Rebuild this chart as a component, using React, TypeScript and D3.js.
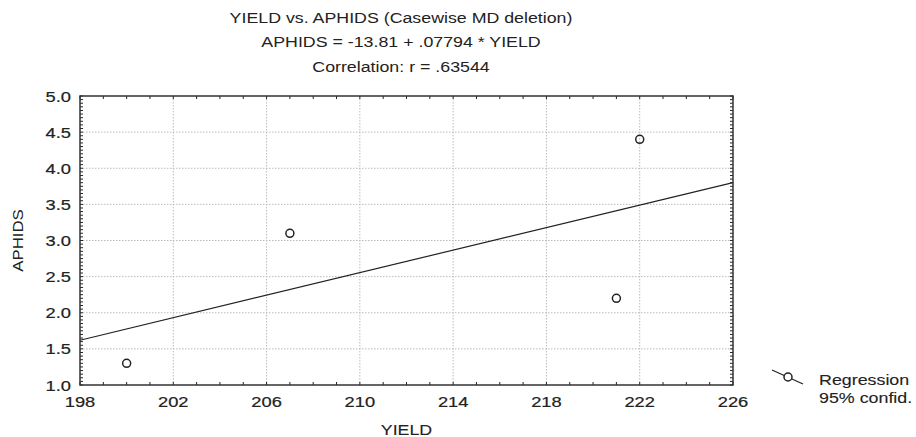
import React from 'react';
import * as d3 from 'd3';

// data
const yieldValues = [200, 207, 221, 222];
const aphidValues = [1.3, 3.1, 2.2, 4.4];
const xTicks = [198, 202, 206, 210, 214, 218, 222, 226];
const yTicks = [1.0, 1.5, 2.0, 2.5, 3.0, 3.5, 4.0, 4.5, 5.0];
const titleLines = [
  'YIELD vs. APHIDS (Casewise MD deletion)',
  'APHIDS = -13.81 + .07794 * YIELD',
  'Correlation: r = .63544',
];
const legendLabels = ['Regression', '95% confid.'];

const W = 916;
const H = 437;
const margin = { left: 80, top: 96, right: 183, bottom: 52 };
const font = 'Arial, "Liberation Sans", Helvetica, sans-serif';
const ink = '#222';

// the reference text is stretched sideways, so scale x only
function Label({ x, y, sx = 1.25, size = 14, anchor = 'start', weight = 0.2, children }: any) {
  return (
    <text transform={`translate(${x},${y}) scale(${sx},1)`} textAnchor={anchor} fontSize={size}
      fill={ink} stroke={ink} strokeWidth={weight}>{children}</text>
  );
}

export default function App() {
  const x = d3.scaleLinear().domain([198, 226]).range([margin.left, W - margin.right]);
  const y = d3.scaleLinear().domain([1, 5]).range([H - margin.bottom, margin.top]);

  // least squares fit
  const mx = d3.mean(yieldValues)!;
  const my = d3.mean(aphidValues)!;
  const sxy = d3.sum(yieldValues, (v, i) => (v - mx) * (aphidValues[i] - my));
  const sxx = d3.sum(yieldValues, v => (v - mx) ** 2);
  const slope = sxy / sxx;
  const intercept = my - slope * mx;
  const [x0, x1] = x.domain();
  const line = d3.line<number>().x(d => x(d)).y(d => y(intercept + slope * d));

  const xMinor = d3.range(198, 227, 1);
  const yMinor = d3.range(0, 81).map(i => 1 + i * 0.05);
  const [L, R] = x.range();
  const [B, T] = y.range();

  return (
    <svg width={W} height={H} style={{ position: 'absolute', left: 0, top: 0, background: '#fff' }}
      fontFamily={font}>
      {/* title */}
      {titleLines.map((t, i) => (
        <Label key={i} x={401} y={22.5 + i * 24.5} anchor="middle" size={14} sx={1.27} weight={0}>{t}</Label>
      ))}

      {/* grid */}
      <g stroke="#bbb" strokeWidth={1} strokeDasharray="1.5,1.5">
        {xTicks.slice(1, -1).map(t => <line key={t} x1={x(t)} x2={x(t)} y1={T} y2={B} />)}
        {yTicks.slice(1, -1).map(t => <line key={t} x1={L} x2={R} y1={y(t)} y2={y(t)} />)}
      </g>

      {/* minor ticks, inward */}
      <g stroke={ink} strokeWidth={1}>
        {xMinor.map(t => (
          <g key={'xm' + t}>
            <line x1={x(t)} x2={x(t)} y1={B} y2={B - 3} />
            <line x1={x(t)} x2={x(t)} y1={T} y2={T + 3} />
          </g>
        ))}
        {yMinor.map((t, i) => (
          <g key={'ym' + i}>
            <line x1={L} x2={L + 3} y1={y(t)} y2={y(t)} />
            <line x1={R} x2={R - 3} y1={y(t)} y2={y(t)} />
          </g>
        ))}
      </g>

      {/* regression line */}
      <path d={line([x0, x1]) ?? ''} fill="none" stroke={ink} strokeWidth={1.2} />

      {/* points */}
      {yieldValues.map((v, i) => (
        <circle key={i} cx={x(v)} cy={y(aphidValues[i])} r={4} fill="none" stroke={ink} strokeWidth={1.5} />
      ))}

      {/* frame */}
      <rect x={L} y={T} width={R - L} height={B - T} fill="none" stroke="#333" strokeWidth={1.5} />

      {/* tick labels */}
      {xTicks.map(t => (
        <Label key={'xl' + t} x={x(t)} y={B + 22} anchor="middle" size={15} sx={1.22}>{t}</Label>
      ))}
      {yTicks.map(t => (
        <Label key={'yl' + t} x={L - 9} y={y(t) + 5.5} anchor="end" size={15} sx={1.22}>{t.toFixed(1)}</Label>
      ))}

      {/* axis titles */}
      <Label x={(L + R) / 2} y={H - 2} anchor="middle" size={14} sx={1.27} weight={0.1}>YIELD</Label>
      <text transform={`translate(22.5,${(T + B) / 2}) rotate(-90) scale(1.12,1)`} textAnchor="middle"
        fontSize={15} fill={ink}>APHIDS</text>

      {/* legend */}
      <line x1={772} y1={370} x2={803} y2={384} stroke={ink} strokeWidth={1.2} />
      <circle cx={788} cy={377} r={4} fill="#fff" stroke={ink} strokeWidth={1.5} />
      {legendLabels.map((t, i) => (
        <Label key={t} x={819} y={385 + i * 17.5} size={14.5} sx={1.23} weight={0.1}>{t}</Label>
      ))}
    </svg>
  );
}
